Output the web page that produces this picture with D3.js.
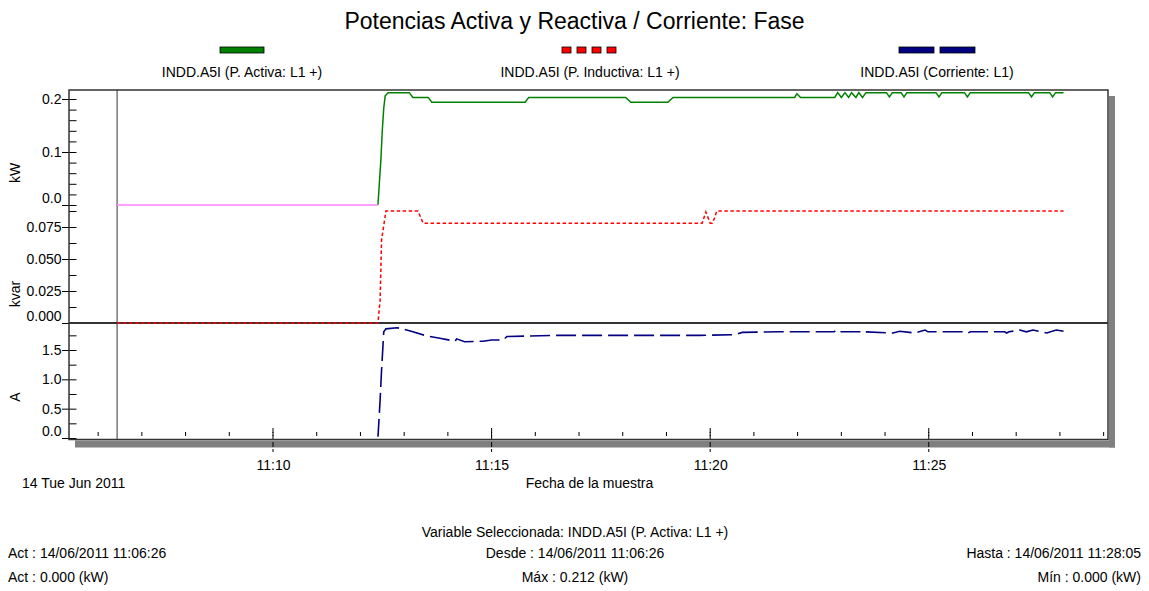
<!DOCTYPE html>
<html><head><meta charset="utf-8">
<script src="https://cdn.jsdelivr.net/npm/d3@7"></script>
<style>
body{margin:0;background:#fff;}
text{font-family:"Liberation Sans",Arial,sans-serif;fill:#000;}
</style>
</head><body>
<svg id="c" width="1149" height="591"></svg>
<script>
// ---------- DATA ----------
const chartTitle = "Potencias Activa y Reactiva / Corriente: Fase";
const seriesNames = ["INDD.A5I (P. Activa: L1 +)", "INDD.A5I (P. Inductiva: L1 +)", "INDD.A5I (Corriente: L1)"];
const seriesColors = ["#008000", "#ff0000", "#000080"];
const zeroColor = "#ff80ff";

const activeTimes = ["11:06:26","11:12:24","11:12:28","11:12:30","11:12:32","11:12:34","11:12:38","11:13:07","11:13:12","11:13:33",
  "11:13:38","11:15:46","11:15:51","11:18:04","11:18:11","11:19:02","11:19:09","11:21:56","11:21:59","11:22:04",
  "11:22:51","11:22:55","11:23:00","11:23:05","11:23:10","11:23:14","11:23:20","11:23:24","11:23:29","11:23:34",
  "11:24:02","11:24:06","11:24:10","11:24:22","11:24:26","11:24:30","11:25:10","11:25:14","11:25:18",
  "11:25:49","11:25:53","11:25:57","11:27:17","11:27:21","11:27:25","11:27:46","11:27:50","11:27:54","11:28:05"];
const activeValues = [0,0,0.084,0.141,0.183,0.206,0.212,0.212,0.203,0.203,
  0.194,0.194,0.203,0.203,0.194,0.194,0.203,0.203,0.210,0.203,
  0.203,0.212,0.203,0.212,0.203,0.212,0.203,0.212,0.203,0.212,
  0.212,0.204,0.212,0.212,0.204,0.212,0.212,0.204,0.212,
  0.212,0.204,0.212,0.212,0.204,0.212,0.212,0.204,0.212,0.212];

const reactiveTimes = ["11:06:26","11:12:24","11:12:27","11:12:29","11:12:35","11:13:19","11:13:26","11:19:49","11:19:54","11:20:00","11:20:03","11:20:06","11:20:09","11:28:05"];
const reactiveValues = [0,0,0.018,0.065,0.0875,0.0875,0.078,0.078,0.0867,0.078,0.078,0.082,0.0875,0.0875];

const currentTimes = ["11:06:26","11:12:24","11:12:27","11:12:29","11:12:32","11:12:35","11:12:50","11:12:58","11:13:12","11:13:31",
  "11:13:49","11:14:10","11:14:12","11:14:23","11:14:48","11:15:00","11:15:16","11:15:21","11:16:34","11:19:46",
  "11:20:34","11:20:44","11:21:36",
  "11:22:50","11:22:53","11:22:56","11:23:27","11:23:30","11:23:33","11:24:11","11:24:20",
  "11:24:41","11:24:55","11:24:59","11:25:51","11:25:54","11:25:57","11:26:44","11:26:47","11:26:50",
  "11:27:05","11:27:14","11:27:23","11:27:42","11:27:55","11:28:05"];
const currentValues = [0,0,0.65,1.16,1.81,1.86,1.88,1.86,1.81,1.74,
  1.70,1.65,1.69,1.64,1.65,1.67,1.67,1.73,1.75,1.75,
  1.76,1.80,1.81,
  1.81,1.84,1.81,1.81,1.79,1.81,1.79,1.82,
  1.79,1.84,1.81,1.81,1.79,1.81,1.81,1.79,1.81,
  1.84,1.81,1.84,1.79,1.84,1.82];

const kwTicks = [0, 0.1, 0.2], kwTickLabels = ["0.0","0.1","0.2"];
const kvarTicks = [0, 0.025, 0.05, 0.075], kvarTickLabels = ["0.000","0.025","0.050","0.075"];
const aTicks = [0, 0.5, 1.0, 1.5], aTickLabels = ["0.0","0.5","1.0","1.5"];
const axisUnits = ["kW", "kvar", "A"];
const xTickLabels = ["11:10","11:15","11:20","11:25"];
const dateLabel = "14 Tue Jun 2011";
const xAxisTitle = "Fecha de la muestra";
const cursorTime = "11:06:26";
const footer = {
  selected: "Variable Seleccionada: INDD.A5I (P. Activa: L1 +)",
  act1: "Act : 14/06/2011 11:06:26", desde: "Desde : 14/06/2011 11:06:26", hasta: "Hasta : 14/06/2011 11:28:05",
  act2: "Act : 0.000 (kW)", max: "Máx : 0.212 (kW)", min: "Mín : 0.000 (kW)"
};

// ---------- CHART ----------
const svg = d3.select("#c");
const parse = d3.timeParse("%Y-%m-%d %H:%M:%S");
const T = s => parse("2011-06-14 " + s);

const L = 69, R = 1108, TOP = 90, BOT = 439.5, SEP = 323;
const x = d3.scaleTime().domain([T("11:05:20"), T("11:29:06")]).range([L, R]);
const yKW = d3.scaleLinear().domain([0, 0.2]).range([205, 99]);
const yKvar = d3.scaleLinear().domain([0, 0.075]).range([323, 227]);
const yA = d3.scaleLinear().domain([0, 1.5]).range([438, 350]);

// shadow
svg.append("rect").attr("x", R + 1).attr("y", TOP + 6).attr("width", 6).attr("height", BOT - TOP + 2).attr("fill", "#808080");
svg.append("rect").attr("x", L + 6).attr("y", BOT + 1).attr("width", R - L + 1).attr("height", 7).attr("fill", "#808080");
svg.append("rect").attr("x", L).attr("y", TOP).attr("width", R - L).attr("height", BOT - TOP).attr("fill", "#fff");

// title
svg.append("text").attr("x", 574.5).attr("y", 29).attr("text-anchor", "middle").attr("font-size", 23).text(chartTitle);

// legend
const legX = [242, 590, 937];
seriesNames.forEach((n, i) => {
  svg.append("text").attr("x", legX[i]).attr("y", 77).attr("text-anchor", "middle").attr("font-size", 14).text(n);
});
svg.append("rect").attr("x", 220).attr("y", 47).attr("width", 44).attr("height", 6).attr("fill", seriesColors[0]).attr("stroke", "#000").attr("stroke-width", 0.8);
[0,1,2,3].forEach(k => svg.append("rect").attr("x", 562 + k * 15).attr("y", 47).attr("width", 9).attr("height", 6).attr("fill", seriesColors[1]).attr("stroke", "#000").attr("stroke-width", 0.8));
[0,1].forEach(k => svg.append("rect").attr("x", 899 + k * 41).attr("y", 47).attr("width", 35).attr("height", 6).attr("fill", seriesColors[2]).attr("stroke", "#000").attr("stroke-width", 0.8));

// y axes
function yAxis(scale, major, labels, minorStep, minorMax) {
  const minor = d3.range(0, minorMax + 1e-9, minorStep);
  svg.append("g").attr("transform", `translate(${L},0)`)
    .call(d3.axisRight(scale).tickValues(minor).tickSize(7.5).tickFormat(""))
    .call(g => g.select(".domain").remove())
    .call(g => g.selectAll("line").attr("stroke", "#000"));
  const g = svg.append("g").attr("transform", `translate(${L},0)`)
    .call(d3.axisLeft(scale).tickValues(major).tickSize(7).tickPadding(0.5).tickFormat((d, i) => labels[i]))
    .call(g => g.select(".domain").remove())
    .call(g => g.selectAll("line").attr("stroke", "#000"));
  g.selectAll("text").attr("font-size", 14).attr("font-family", '"Liberation Sans",Arial,sans-serif').attr("fill", "#000")
    .filter(d => d === 0).attr("dy", "-0.18em");
}
yAxis(yKW, kwTicks, kwTickLabels, 0.02, 0.2);
yAxis(yKvar, kvarTicks, kvarTickLabels, 0.0125, 0.0875);
yAxis(yA, aTicks, aTickLabels, 0.25, 1.75);

// unit labels
[[173, axisUnits[0]], [294, axisUnits[1]], [397, axisUnits[2]]].forEach(([cy, t]) => {
  svg.append("text").attr("transform", `translate(20,${cy}) rotate(-90)`).attr("text-anchor", "middle").attr("font-size", 14).text(t);
});

// x axis minor ticks
const minorX = x.ticks(d3.timeMinute.every(1));
svg.append("g").selectAll("line").data(minorX).join("line")
  .attr("x1", d => x(d)).attr("x2", d => x(d)).attr("y1", 432).attr("y2", 436)
  .attr("stroke", "#000").attr("stroke-width", 1);
const majorX = xTickLabels.map(s => T(s + ":00"));
svg.append("g").selectAll("line").data(majorX).join("line")
  .attr("x1", d => x(d)).attr("x2", d => x(d)).attr("y1", 428).attr("y2", 452)
  .attr("stroke", "#000").attr("stroke-width", 1).attr("stroke-dasharray", "5,2");
const xg = svg.append("g").attr("transform", `translate(0,${BOT})`)
  .call(d3.axisBottom(x).tickValues(majorX).tickSize(0).tickPadding(20.5).tickFormat((d, i) => xTickLabels[i]));
xg.select(".domain").remove();
xg.selectAll("text").attr("font-size", 14).attr("font-family", '"Liberation Sans",Arial,sans-serif').attr("fill", "#000");

svg.append("text").attr("x", 22).attr("y", 488).attr("font-size", 14).text(dateLabel);
svg.append("text").attr("x", 589.5).attr("y", 488).attr("text-anchor", "middle").attr("font-size", 14).text(xAxisTitle);

// cursor line
svg.append("line").attr("x1", x(T(cursorTime))).attr("x2", x(T(cursorTime))).attr("y1", TOP).attr("y2", BOT)
  .attr("stroke", "#555").attr("stroke-width", 1.2);

// separator
svg.append("line").attr("x1", L).attr("x2", R).attr("y1", SEP).attr("y2", SEP).attr("stroke", "#333").attr("stroke-width", 1.8);

// series
const act = activeTimes.map((t, i) => ({t: T(t), v: activeValues[i]}));
const rea = reactiveTimes.map((t, i) => ({t: T(t), v: reactiveValues[i]}));
const cur = currentTimes.map((t, i) => ({t: T(t), v: currentValues[i]}));
const firstNZ = act.findIndex(d => d.v > 0);

svg.append("clipPath").attr("id", "clipA").append("rect")
  .attr("x", L).attr("y", SEP).attr("width", R - L).attr("height", yA(0) - 1.2 - SEP);

svg.append("path").datum(cur)
  .attr("d", d3.line().x(d => x(d.t)).y(d => yA(d.v)))
  .attr("fill", "none").attr("stroke", seriesColors[2]).attr("stroke-width", 1.6).attr("stroke-dasharray", "20,6")
  .attr("clip-path", "url(#clipA)");
svg.append("path").datum(rea)
  .attr("d", d3.line().x(d => x(d.t)).y(d => yKvar(d.v)))
  .attr("fill", "none").attr("stroke", seriesColors[1]).attr("stroke-width", 1.5).attr("stroke-dasharray", "3.5,2.5");
svg.append("path").datum(act.slice(firstNZ - 1))
  .attr("d", d3.line().x(d => x(d.t)).y(d => yKW(d.v)))
  .attr("fill", "none").attr("stroke", seriesColors[0]).attr("stroke-width", 1.5);
svg.append("path").datum(act.slice(0, firstNZ))
  .attr("d", d3.line().x(d => x(d.t)).y(d => yKW(d.v)))
  .attr("fill", "none").attr("stroke", zeroColor).attr("stroke-width", 1.5);

// frame
svg.append("rect").attr("x", L).attr("y", TOP).attr("width", R - L).attr("height", BOT - TOP)
  .attr("fill", "none").attr("stroke", "#333").attr("stroke-width", 1.5);

// footer
const f = (xx, yy, anchor, t) => svg.append("text").attr("x", xx).attr("y", yy).attr("text-anchor", anchor).attr("font-size", 14).text(t);
f(575, 537, "middle", footer.selected);
f(8, 558, "start", footer.act1);
f(575, 558, "middle", footer.desde);
f(1141, 558, "end", footer.hasta);
f(8, 582, "start", footer.act2);
f(575, 582, "middle", footer.max);
f(1141, 582, "end", footer.min);
</script>
</body></html>
